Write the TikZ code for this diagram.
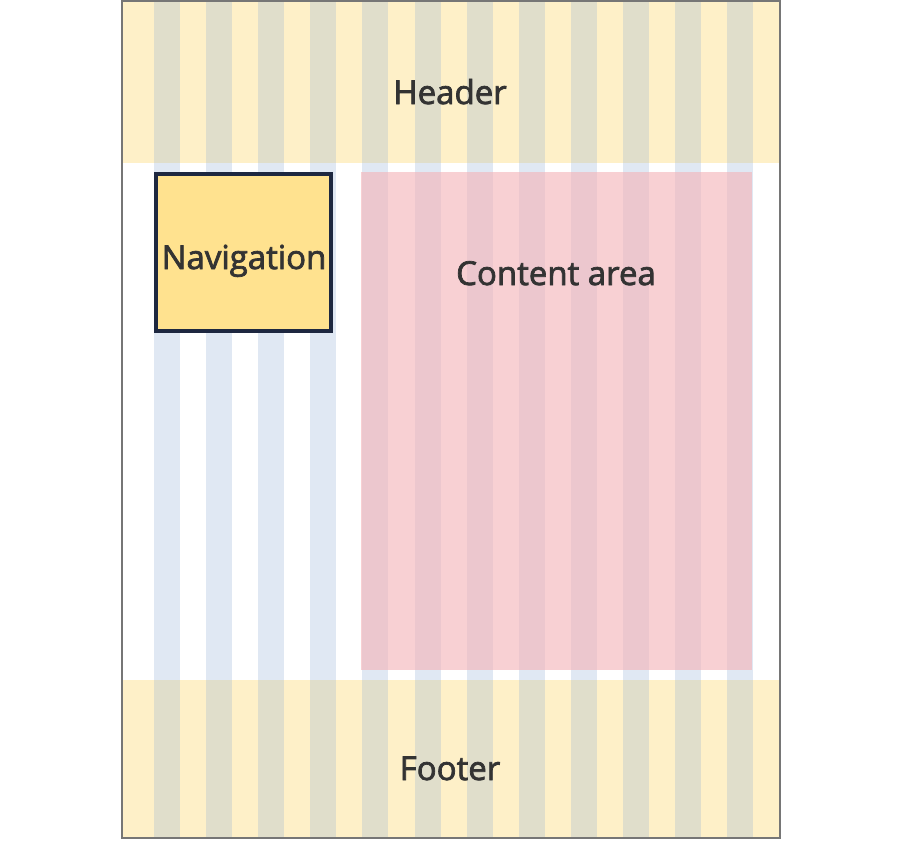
\documentclass[tikz,border=0pt]{standalone}
\usepackage{fontspec}
\setmainfont{Open Sans}
\newfontfamily\capfont{Open Sans}[FakeBold=2.2]
\usepackage{xcolor}
\usetikzlibrary{positioning}
\definecolor{bandyellow}{HTML}{FEF0C8}
\definecolor{bandstripe}{HTML}{E0DECB}
\definecolor{gridblue}{HTML}{E0E8F3}
\definecolor{contentpink}{HTML}{F4B2B6}
\definecolor{navyellow}{HTML}{FFE28F}
\definecolor{navborder}{HTML}{1E2840}
\definecolor{labeltext}{HTML}{333333}
\definecolor{framegray}{HTML}{767676}

\begin{document}
\begin{tikzpicture}[x=1pt, y=-1pt,
  band/.style = {fill=bandyellow, draw=none, minimum width=658, minimum height=162, inner sep=0, anchor=north west},
  region/.style = {draw=none, inner sep=0, anchor=north west},
  navbox/.style = {fill=navyellow, draw=navborder, line width=4pt, minimum width=175, minimum height=157, inner sep=0},
  caption/.style = {text=labeltext, font=\capfont\fontsize{33}{37}\selectfont, anchor=base, inner sep=0},
  frame/.style = {draw=framegray, line width=1.5pt}
]
\useasboundingbox (0,0) rectangle (901,841);
\fill[white] (0,0) rectangle (901,841);

% bands
\node[band] (header) at (122,1) {};
\node[band, minimum height=158] (footer) at (122,680) {};

% grid columns
\foreach \i in {0,...,11} {
  \fill[bandstripe] (154+52.1*\i,1) rectangle +(26,162);
  \fill[gridblue] (154+52.1*\i,163) rectangle +(26,517);
  \fill[bandstripe] (154+52.1*\i,680) rectangle +(26,158);
}

% content area
\node[region, fill=contentpink, fill opacity=0.6, minimum width=391, minimum height=498] (content) at (361,172) {};

% navigation
\node[navbox] (nav) at (243.5,252.5) {};

% texts
\node[caption] (headertext) at (450,104) {Header};
\node[caption] (navtext) at (244,269) {Navigation};
\node[caption] (contenttext) at (556,285) {Content area};
\node[caption] (footertext) at (450,780) {Footer};

\draw[frame] (122,1) rectangle (780,838);
\end{tikzpicture}
\end{document}
